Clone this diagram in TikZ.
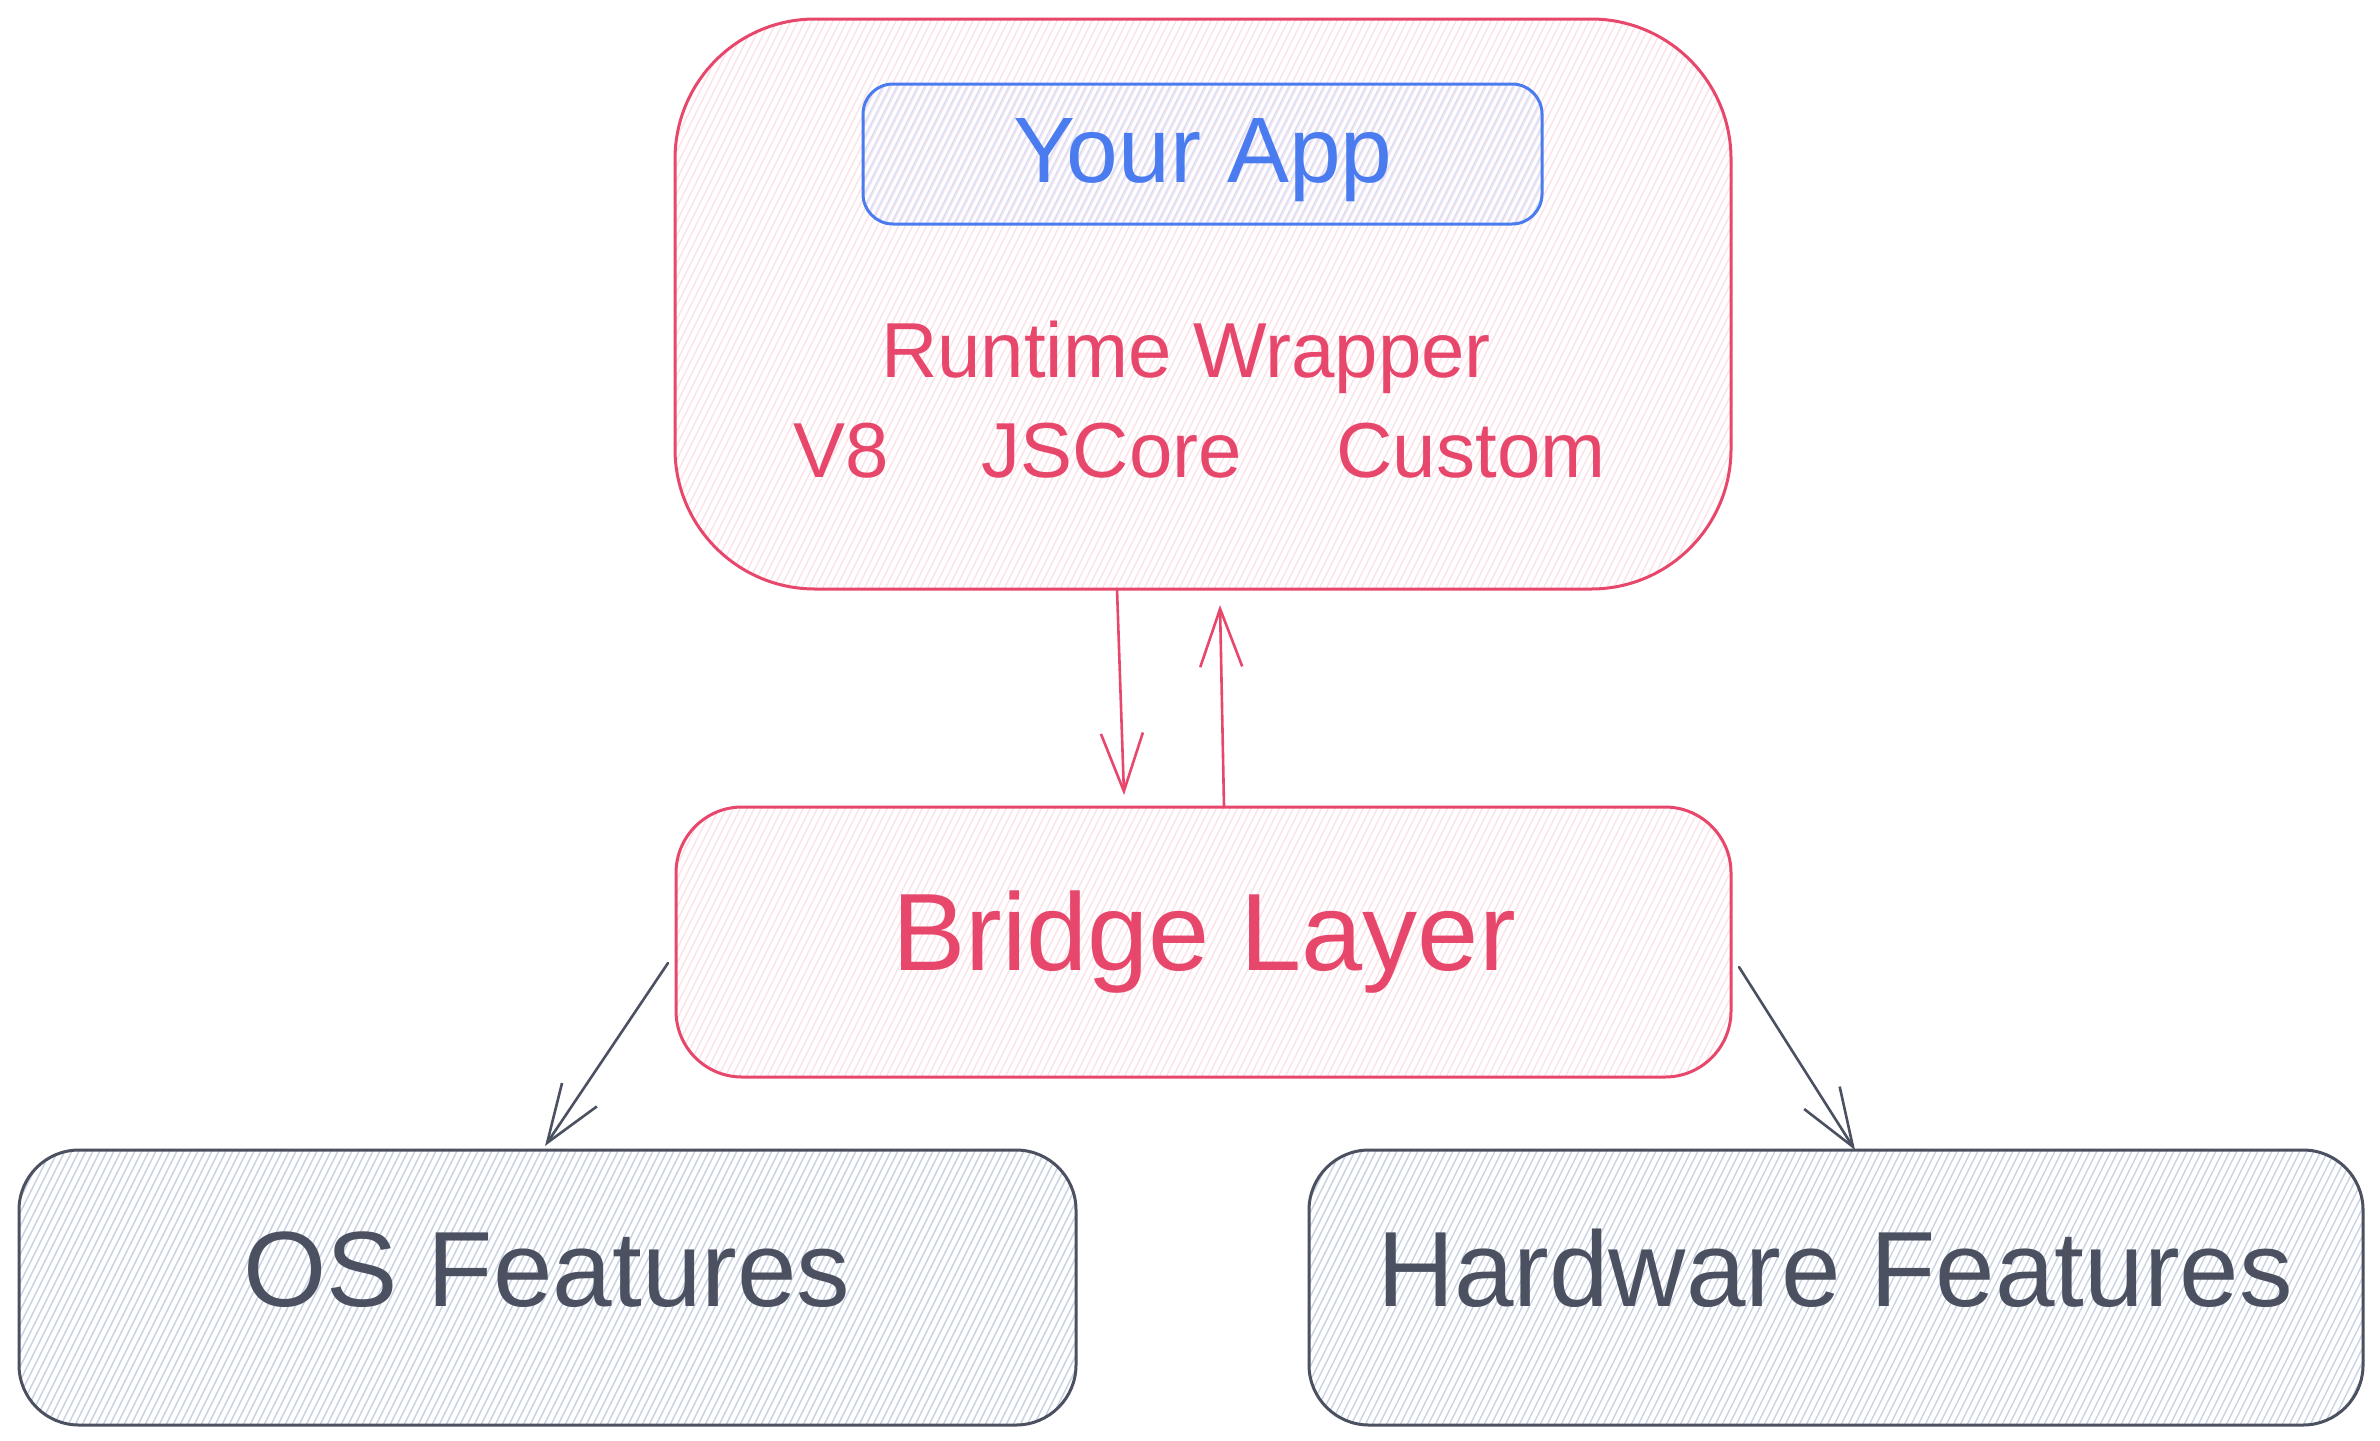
\documentclass[tikz,border=0pt]{standalone}
\usepackage{fontspec}
\setmainfont{Liberation Sans}
\usetikzlibrary{arrows.meta,calc}
\definecolor{cred}{HTML}{E8476C}
\definecolor{cblue}{HTML}{4A7BEF}
\definecolor{cgray}{HTML}{4B5160}
\definecolor{hpink}{HTML}{FCE2E8}
\definecolor{hblue}{HTML}{D6E0FA}
\definecolor{hgray}{HTML}{C9D2E3}
\begin{document}
\begin{tikzpicture}[x=0.5pt,y=-0.5pt,
  hatch/.style={path picture={\foreach \i in {-50,...,155}{\draw[#1,line width=0.7pt] ([xshift=\i*3.5pt]path picture bounding box.south west) -- ++(160pt,320pt);}}},
  sbox/.style={draw=#1, line width=1.5pt, inner sep=0pt, outer sep=0pt},
  lbl/.style={anchor=base, inner sep=0pt, text=#1},
  conn/.style={draw=#1, line width=1.3pt, line cap=round, line join=round, -{Straight Barb[length=29pt,width=21pt]}}
]
\fill[white] (0,0) rectangle (2380,1440);
\useasboundingbox (0,0) rectangle (2380,1440);

% boxes
\node[sbox=cred, hatch=hpink, rounded corners=70pt, minimum width=528pt, minimum height=285pt] (runtime) at (1203,304) {};
\node[sbox=cblue, hatch=hblue, rounded corners=15pt, minimum width=339.5pt, minimum height=70pt] (yourapp) at (1202.5,154) {};
\node[sbox=cred, hatch=hpink, rounded corners=33pt, minimum width=527.5pt, minimum height=135pt] (bridge) at (1203.5,942) {};
\node[sbox=cgray, hatch=hgray, rounded corners=30pt, minimum width=528.5pt, minimum height=137.5pt] (os) at (547.5,1287.5) {};
\node[sbox=cgray, hatch=hgray, rounded corners=30pt, minimum width=527pt, minimum height=137.5pt] (hw) at (1836,1287.5) {};

% labels
\node[lbl=cblue, font=\fontsize{46.5pt}{50pt}\selectfont] (yourapptxt) at (1203,182) {Your App};
\node[lbl=cred, font=\fontsize{39pt}{42pt}\selectfont] (runtimetxt) at (1186,377) {Runtime Wrapper};
\node[lbl=cred, font=\fontsize{39pt}{42pt}\selectfont] (v8txt) at (841,477) {V8};
\node[lbl=cred, font=\fontsize{39pt}{42pt}\selectfont] (jsctxt) at (1112,477) {JSCore};
\node[lbl=cred, font=\fontsize{39pt}{42pt}\selectfont] (customtxt) at (1471,477) {Custom};
\node[lbl=cred, font=\fontsize{55pt}{58pt}\selectfont] (bridgetxt) at (1204,970) {Bridge Layer};
\node[lbl=cgray, font=\fontsize{53.5pt}{56pt}\selectfont] (ostxt) at (547,1306) {OS Features};
\node[lbl=cgray, font=\fontsize{53.5pt}{56pt}\selectfont] (hwtxt) at (1835,1306) {Hardware Features};

% connectors
\draw[conn=cred] ($(runtime.south)+(-86,0)$) -- ($(bridge.north)+(-79.5,-12)$);
\draw[conn=cred] ($(bridge.north)+(20.5,0)$) -- ($(runtime.south)+(17,16)$);
\draw[conn=cgray] ($(bridge.west)+(-8,21)$) -- ($(os.north)+(-2.5,-4)$);
\draw[conn=cgray] ($(bridge.east)+(8,25)$) -- ($(hw.north)+(19,0)$);
\end{tikzpicture}
\end{document}
